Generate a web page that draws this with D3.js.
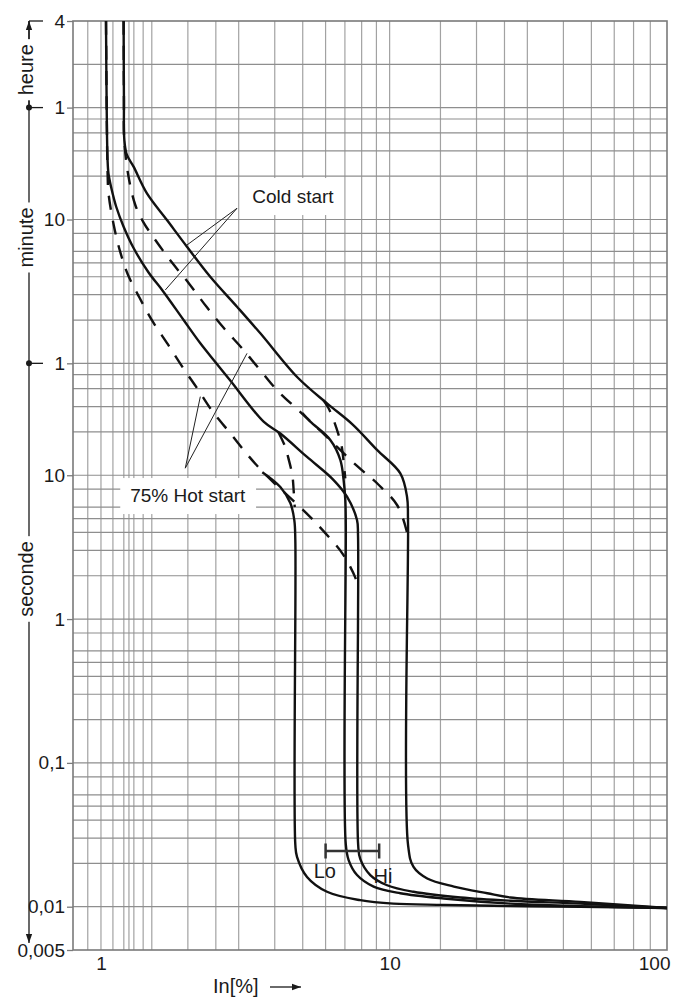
<!DOCTYPE html>
<html>
<head>
<meta charset="utf-8">
<script src="https://cdnjs.cloudflare.com/ajax/libs/d3/7.8.5/d3.min.js"></script>
<style>
  body { margin: 0; background: #fff; }
  svg { display: block; }
  text { font-family: "Liberation Sans", Arial, Helvetica, sans-serif; fill: #1a1a1a; }
</style>
</head>
<body>
<div id="chart"></div>
<script>
// ---- data (current in multiples of In, time in seconds) ----

// vertical grid lines
const currentGrid = [0.9, 1, 1.1, 1.2, 1.25, 1.3, 1.4, 1.5, 2, 2.5, 3, 4, 5, 6, 7, 8, 9, 10,
  15, 20, 25, 30, 40, 50, 60, 70, 80];
// horizontal grid lines
const timeGrid = [0.01, 0.02, 0.03, 0.04, 0.05, 0.06, 0.08, 0.1, 0.2, 0.3, 0.4, 0.5, 0.6, 0.8,
  1, 2, 3, 4, 5, 6, 8, 10, 20, 30, 40, 50, 60, 120, 180, 240, 300, 360, 480, 600,
  1200, 1800, 2400, 3000, 3600, 7200];

// tick labels
const xTickValues = [1, 10];
const xTickLabels = ['1', '10', '100'];
const yTickValues = [14400, 3600, 600, 60, 10, 1, 0.1, 0.01, 0.005];
const yTickLabels = ['4', '1', '10', '1', '10', '1', '0,1', '0,01', '0,005'];

// unit bands on the left
const unitNames = ['heure', 'minute', 'seconde'];
const unitLabelTimes = [6600, 450, 1.9];
const unitMarks = [3600, 60];

// cold start curves (solid)
const coldLeft = [[1.041, 14400], [1.046, 4066], [1.054, 1556], [1.062, 1243], [1.086, 994],
  [1.13, 733], [1.198, 535], [1.297, 380], [1.458, 259], [1.648, 188], [1.933, 120],
  [2.209, 82.7], [2.489, 61.3], [2.805, 45.6], [3.66, 23.6], [4.182, 19.5], [5.174, 13.4],
  [6.397, 9.26], [7.118, 7.09], [7.709, 4.88], [7.771, 3.84], [7.78, 0.027], [7.91, 0.0215],
  [8.57, 0.0166], [9.8, 0.0141], [12.1, 0.0127], [17.6, 0.0116], [26.2, 0.011],
  [45.8, 0.0105], [91.4, 0.0098]];
const coldRight = [[1.198, 14400], [1.201, 4000], [1.205, 2143], [1.228, 1700], [1.297, 1398],
  [1.443, 912], [1.693, 595], [1.986, 388], [2.391, 240], [2.96, 148.5], [3.565, 97],
  [4.8, 47.8], [6.069, 31.6], [7.45, 22.5], [9.043, 15.0], [10.89, 10.3], [11.49, 7.09],
  [11.58, 4.88], [11.58, 0.027], [12.1, 0.0189], [13.5, 0.0157], [16.7, 0.0138],
  [21.8, 0.0124], [26.2, 0.0116], [45.8, 0.0108], [91.4, 0.0098]];

// 75% hot start curves (dashed)
const hotLeft = [[1.041, 14400], [1.046, 4066], [1.054, 1283], [1.062, 913], [1.107, 550],
  [1.166, 357], [1.238, 250], [1.359, 172], [1.512, 117], [1.704, 81.5], [1.921, 56.1],
  [2.165, 39.6], [2.44, 27.6], [2.823, 19.3], [3.247, 13.6], [3.734, 10.0], [5.145, 5.46],
  [5.987, 3.96], [6.884, 2.83], [7.605, 1.94], [7.759, 1.67]];
const hotRight = [[1.198, 14400], [1.201, 4000], [1.204, 2143], [1.243, 1223], [1.315, 757],
  [1.402, 576], [1.543, 432], [1.762, 301], [2.023, 214], [2.329, 147], [2.66, 106],
  [3.081, 76.3], [3.536, 54.8], [4.099, 38.5], [4.777, 28.9], [5.754, 20.4], [7.709, 11.6],
  [9.101, 8.69], [10.61, 6.21], [11.43, 4.16], [11.56, 3.54]];

// instantaneous "Lo" branches (solid)
const loLeft = [[3.622, 10.5], [4.182, 8.28], [4.529, 6.41], [4.675, 4.88], [4.713, 3.54],
  [4.713, 0.027], [4.777, 0.0222], [5.174, 0.0161], [6.069, 0.0127], [7.91, 0.0111],
  [10.3, 0.0105], [15.4, 0.0103], [26.2, 0.0101], [45.8, 0.01], [91.4, 0.0098]];
const loRight = [[4.984, 27.1], [5.312, 23.6], [6.23, 17.6], [6.748, 12.8], [6.928, 9.26],
  [7.023, 6.72], [7.05, 4.5], [7.05, 0.027], [7.21, 0.0211], [7.71, 0.0166], [8.8, 0.0138],
  [10.89, 0.0124], [15.4, 0.0114], [26.2, 0.0105], [45.8, 0.0101], [91.4, 0.0098]];

// drops from the cold curves to the "Lo" branches (dashed)
const dropLeft = [[4.115, 20.0], [4.352, 15.7], [4.457, 13.2], [4.602, 10.0], [4.65, 7.89],
  [4.69, 6.0]];
const dropRight = [[5.893, 33.3], [6.145, 29.2], [6.397, 24.2], [6.66, 19.0], [6.84, 15.4],
  [6.928, 12.4], [7.02, 9.5]];

// Lo / Hi setting range
const loHiRange = [6, 9.2];
const loHiTime = 0.0244;

// annotations: label anchor [I, t] and the points its leader lines reach
const coldStartAnchor = [3.345, 781];
const coldStartLeaders = [[[2.96, 718], [1.986, 399]], [[2.96, 718], [1.67, 194]]];
const hotStartAnchor = [1.263, 6.51];
const hotStartLeaders = [[[1.959, 11.2], [2.209, 35.2]], [[1.959, 11.2], [3.206, 70.4]]];
const loAnchor = [5.454, 0.0158];
const hiAnchor = [8.8, 0.0146];

// ---- drawing ----
const width = 686;
const height = 1001;
const plot = { left: 73, right: 667, top: 21, bottom: 950 };

const x = d3.scaleLog().domain([0.8, 91.4]).range([plot.left, plot.right]);
const y = d3.scaleLog().domain([0.005, 14400]).range([plot.bottom, plot.top]);

const svg = d3.select('#chart').append('svg')
  .attr('width', width)
  .attr('height', height);

const defs = svg.append('defs');
defs.append('clipPath').attr('id', 'clip')
  .append('rect')
  .attr('x', plot.left).attr('y', plot.top)
  .attr('width', plot.right - plot.left).attr('height', plot.bottom - plot.top);

defs.append('marker')
  .attr('id', 'arrow')
  .attr('viewBox', '0 0 10 10')
  .attr('refX', 10).attr('refY', 5)
  .attr('markerWidth', 9).attr('markerHeight', 9)
  .attr('markerUnits', 'userSpaceOnUse')
  .attr('orient', 'auto')
  .append('path')
  .attr('d', 'M0,1.5L10,5L0,8.5Z')
  .attr('fill', '#1a1a1a');

// grid
const grid = svg.append('g').attr('class', 'grid');
grid.selectAll('line.v').data(currentGrid).join('line')
  .attr('class', 'v')
  .attr('x1', d => x(d)).attr('x2', d => x(d))
  .attr('y1', plot.top).attr('y2', plot.bottom)
  .attr('stroke', '#a2a2a2')
  .attr('stroke-width', 1.2);
grid.selectAll('line.h').data(timeGrid).join('line')
  .attr('class', 'h')
  .attr('x1', plot.left).attr('x2', plot.right)
  .attr('y1', d => y(d)).attr('y2', d => y(d))
  .attr('stroke', '#8e8e8e')
  .attr('stroke-width', 1.2);

// frame
svg.append('rect')
  .attr('x', plot.left).attr('y', plot.top)
  .attr('width', plot.right - plot.left).attr('height', plot.bottom - plot.top)
  .attr('fill', 'none')
  .attr('stroke', '#7a7a7a')
  .attr('stroke-width', 1.6);

// axes
const yAxis = d3.axisLeft(y)
  .tickValues(yTickValues)
  .tickFormat((d, i) => yTickLabels[i])
  .tickSize(6)
  .tickPadding(2);
const gy = svg.append('g')
  .attr('transform', `translate(${plot.left},0)`)
  .call(yAxis);
gy.select('.domain').remove();
gy.selectAll('line').attr('stroke', '#7a7a7a').attr('stroke-width', 1.3);
gy.selectAll('text').attr('font-size', 19).attr('fill', '#1a1a1a');

const xAxis = d3.axisBottom(x)
  .tickValues([...xTickValues, x.domain()[1]])
  .tickFormat((d, i) => xTickLabels[i])
  .tickSize(0)
  .tickPadding(7);
const gx = svg.append('g')
  .attr('transform', `translate(0,${plot.bottom})`)
  .call(xAxis);
gx.select('.domain').remove();
gx.selectAll('text').attr('font-size', 19).attr('fill', '#1a1a1a');
gx.selectAll('text').filter((d, i) => i === xTickLabels.length - 1)
  .attr('text-anchor', 'end')
  .attr('dx', 3);

// label boxes that hide the grid
function boxedLabel(anchor, text, padX, padTop, padBottom) {
  const g = svg.append('g');
  const rect = g.append('rect').attr('fill', '#fff');
  const t = g.append('text')
    .attr('x', x(anchor[0]))
    .attr('y', y(anchor[1]))
    .attr('font-size', 19)
    .text(text);
  const b = t.node().getBBox();
  rect.attr('x', b.x - padX).attr('y', b.y - padTop)
    .attr('width', b.width + 2 * padX)
    .attr('height', b.height + padTop + padBottom);
  return g;
}
boxedLabel(coldStartAnchor, 'Cold start', 8, 8, 8);
boxedLabel(hotStartAnchor, '75% Hot start', 10, 7, 8);

// curves
const line = d3.line()
  .x(d => x(d[0]))
  .y(d => y(d[1]))
  .curve(d3.curveCatmullRom.alpha(0.5));

const curves = svg.append('g').attr('clip-path', 'url(#clip)')
  .attr('fill', 'none')
  .attr('stroke', '#111')
  .attr('stroke-width', 2.4);

[coldLeft, coldRight, loLeft, loRight].forEach((c) => {
  curves.append('path').attr('d', line(c));
});
[hotLeft, hotRight, dropLeft, dropRight].forEach((c) => {
  curves.append('path').attr('d', line(c)).attr('stroke-dasharray', '14,11');
});

// leader lines
const leaders = svg.append('g')
  .attr('stroke', '#222')
  .attr('stroke-width', 1);
[...coldStartLeaders, ...hotStartLeaders].forEach((seg) => {
  leaders.append('line')
    .attr('x1', x(seg[0][0])).attr('y1', y(seg[0][1]))
    .attr('x2', x(seg[1][0])).attr('y2', y(seg[1][1]));
});

// Lo / Hi range bar
const bar = svg.append('g').attr('stroke', '#333').attr('stroke-width', 2.5);
bar.append('line')
  .attr('x1', x(loHiRange[0])).attr('x2', x(loHiRange[1]))
  .attr('y1', y(loHiTime)).attr('y2', y(loHiTime));
loHiRange.forEach((v) => {
  bar.append('line')
    .attr('x1', x(v)).attr('x2', x(v))
    .attr('y1', y(loHiTime) - 7.5).attr('y2', y(loHiTime) + 7.5);
});
svg.append('text').attr('x', x(loAnchor[0])).attr('y', y(loAnchor[1]))
  .attr('font-size', 20).text('Lo');
svg.append('text').attr('x', x(hiAnchor[0])).attr('y', y(hiAnchor[1]))
  .attr('font-size', 20).text('Hi');

// unit bands on the left
const ux = 29;
const units = svg.append('g');
units.append('line')
  .attr('x1', ux).attr('x2', ux)
  .attr('y1', y(yTickValues[0])).attr('y2', plot.bottom - 7)
  .attr('stroke', '#1a1a1a').attr('stroke-width', 1.3)
  .attr('marker-end', 'url(#arrow)');
units.append('line')
  .attr('x1', ux).attr('x2', ux)
  .attr('y1', y(3600)).attr('y2', y(yTickValues[0]))
  .attr('stroke', '#1a1a1a').attr('stroke-width', 1.3)
  .attr('marker-end', 'url(#arrow)');
[yTickValues[0], ...unitMarks].forEach((t) => {
  units.append('line')
    .attr('x1', ux).attr('x2', ux + 14)
    .attr('y1', y(t)).attr('y2', y(t))
    .attr('stroke', '#1a1a1a').attr('stroke-width', 1.3);
});
unitMarks.forEach((t) => {
  units.append('circle').attr('cx', ux).attr('cy', y(t)).attr('r', 3).attr('fill', '#1a1a1a');
});
unitNames.forEach((name, i) => {
  const g = units.append('g')
    .attr('transform', `translate(${ux},${y(unitLabelTimes[i])}) rotate(-90)`);
  const rect = g.append('rect').attr('fill', '#fff');
  const t = g.append('text')
    .attr('text-anchor', 'middle')
    .attr('dy', '0.22em')
    .attr('font-size', 20)
    .text(name);
  const b = t.node().getBBox();
  rect.attr('x', b.x - 5).attr('y', -4).attr('width', b.width + 10).attr('height', 8);
});

// x title
svg.append('text')
  .attr('x', 213).attr('y', 993)
  .attr('font-size', 20)
  .text('In[%]');
svg.append('line')
  .attr('x1', 270).attr('x2', 301)
  .attr('y1', 987).attr('y2', 987)
  .attr('stroke', '#1a1a1a').attr('stroke-width', 1.3)
  .attr('marker-end', 'url(#arrow)');
</script>
</body>
</html>
